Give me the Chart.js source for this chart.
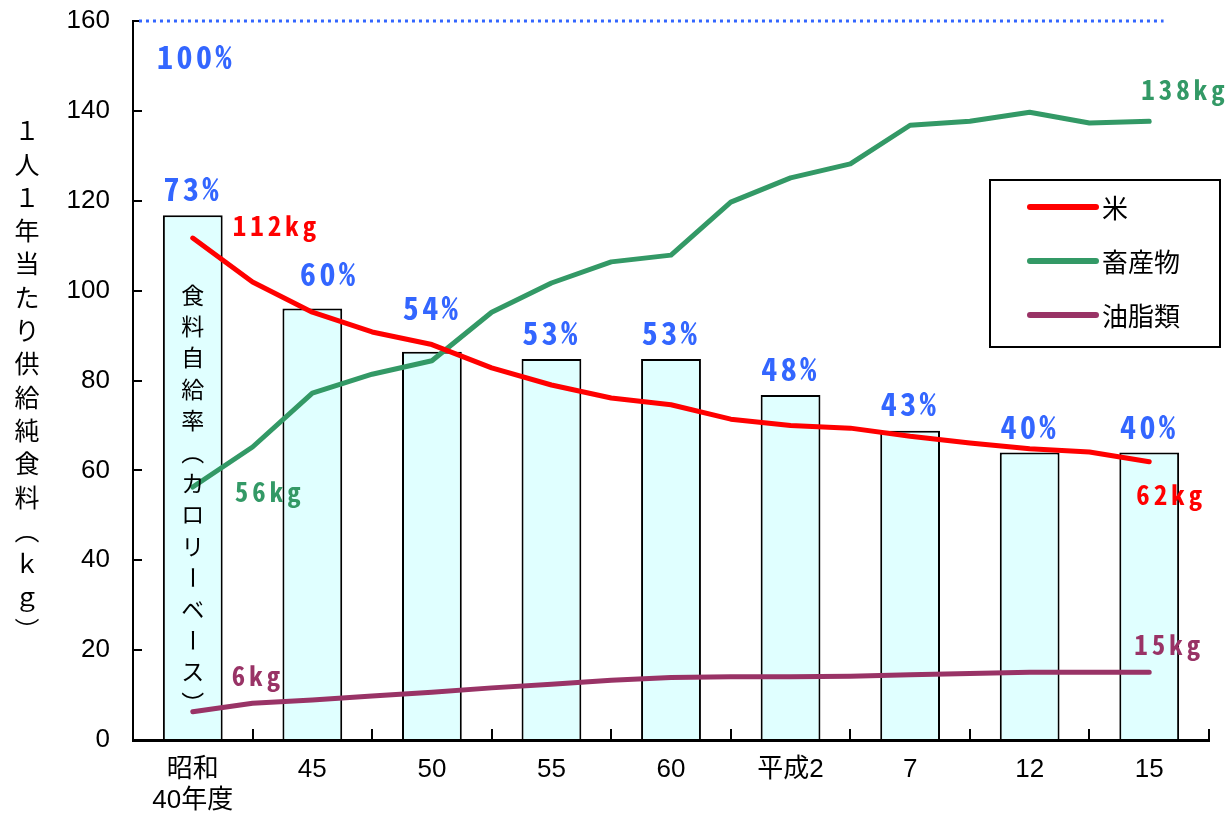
<!DOCTYPE html>
<html lang="ja">
<head>
<meta charset="utf-8">
<script src="https://cdn.jsdelivr.net/npm/chart.js@4.4.1/dist/chart.umd.min.js"></script>
<style>
  html, body { margin: 0; padding: 0; background: #fff; }
</style>
</head>
<body>
<canvas id="chart" width="1227" height="813"></canvas>
<script>
// categories (年度) and 食料自給率 (%)
const categories = [["昭和", "40年度"], "45", "50", "55", "60", "平成2", "7", "12", "15"];
const selfRate = [73, 60, 54, 53, 53, 48, 43, 40, 40];

// line points sit on every category and half-way between them
const lineX = [0, 0.5, 1, 1.5, 2, 2.5, 3, 3.5, 4, 4.5, 5, 5.5, 6, 6.5, 7, 7.5, 8];
const rice      = [111.7, 101.9, 95.2, 90.8, 88.0, 82.8, 79.0, 76.1, 74.6, 71.4, 70.0, 69.4, 67.6, 66.1, 64.8, 64.1, 61.9];
const livestock = [56.3, 65.2, 77.2, 81.4, 84.4, 95.2, 101.7, 106.4, 107.9, 119.7, 125.1, 128.2, 136.8, 137.7, 139.7, 137.3, 137.7];
const fats      = [6.3, 8.2, 8.9, 9.8, 10.6, 11.6, 12.4, 13.3, 13.9, 14.1, 14.1, 14.2, 14.5, 14.8, 15.1, 15.1, 15.1];

const seriesNames = ["米", "畜産物", "油脂類"];
const seriesColors = ["#ff0000", "#339966", "#993366"];
const endLabels = [["112kg", "62kg"], ["56kg", "138kg"], ["6kg", "15kg"]];

const yMax = 160;           // 100% 自給率 = 160 on the kg axis
const refLineX = [-0.45, 8.12];
const yTitle = "１人１年当たり供給純食料（ｋｇ）";
const barNote = "食料自給率（カロリーベース）";

const BLUE = "#3366ff";
const FONT = "'Liberation Sans', 'Noto Sans CJK JP', sans-serif";
const CJK = "'Noto Sans CJK JP', sans-serif";
const BOLD = "'Noto Sans Mono CJK JP', 'Noto Sans CJK JP', sans-serif";

const pts = vals => vals.map((v, i) => ({ x: lineX[i], y: v }));

function lineSet(i, vals) {
  return {
    type: "line",
    label: seriesNames[i],
    data: pts(vals),
    xAxisID: "x2",
    borderColor: seriesColors[i],
    borderWidth: 5,
    borderCapStyle: "round",
    borderJoinStyle: "round",
    pointRadius: 0,
    tension: 0,
    order: 1
  };
}

// vertical text, one glyph under the other
function drawVertical(ctx, text, cx, cy, step) {
  const chars = Array.from(text.replace("（", "︵").replace("）", "︶"));
  let y = cy - (chars.length - 1) * step / 2;
  chars.forEach(ch => {
    if (ch === "ー") {
      ctx.save();
      ctx.translate(cx, y);
      ctx.rotate(Math.PI / 2);
      ctx.fillText(ch, 0, 0);
      ctx.restore();
    } else {
      ctx.fillText(ch, cx, y);
    }
    y += step;
  });
}

const overlay = {
  id: "overlay",
  afterDatasetsDraw(chart) {
    const { ctx, chartArea: ca, scales: { x, x2, y } } = chart;
    ctx.save();
    ctx.textBaseline = "middle";

    // percent labels above bars
    ctx.font = "bold 32px " + BOLD;
    ctx.fillStyle = BLUE;
    ctx.textAlign = "center";
    ctx.letterSpacing = "3.5px";
    const lift = [26, 35, 44, 26, 26, 26, 27, 26, 26];
    const shift = [0, 17, 0, 0, 0, 0, 0, 0, 0];
    selfRate.forEach((p, i) => {
      ctx.fillText(p + "%", x.getPixelForValue(i) + shift[i], y.getPixelForValue(p * yMax / 100) - lift[i]);
    });
    ctx.textAlign = "left";
    ctx.fillText("100%", ca.left + 24, ca.top + 36);

    // start / end kg labels
    ctx.font = "bold 27px " + BOLD;
    ctx.letterSpacing = "4px";
    const allVals = [rice, livestock, fats];
    const startOff = [[40, -12], [42, 5], [39, -36]];
    const endOff = [[-13, 33], [-8, -31], [-15, -27]];
    allVals.forEach((vals, i) => {
      ctx.fillStyle = seriesColors[i];
      const x0 = x2.getPixelForValue(lineX[0]);
      const y0 = y.getPixelForValue(vals[0]);
      ctx.fillText(endLabels[i][0], x0 + startOff[i][0], y0 + startOff[i][1]);
      const n = vals.length - 1;
      const x1 = x2.getPixelForValue(lineX[n]);
      const y1 = y.getPixelForValue(vals[n]);
      ctx.fillText(endLabels[i][1], x1 + endOff[i][0], y1 + endOff[i][1]);
    });
    ctx.letterSpacing = "0px";

    // text inside first bar
    ctx.fillStyle = "#000";
    ctx.textAlign = "center";
    ctx.font = "23px " + CJK;
    drawVertical(ctx, barNote, x.getPixelForValue(0), ca.top + 478, 31.4);

    // y axis title
    ctx.font = "25px " + CJK;
    drawVertical(ctx, yTitle, 27, (ca.top + ca.bottom) / 2, 33.3);

    // legend box
    const lx = ca.right - 219, ly = ca.top + 159;
    ctx.lineWidth = 2;
    ctx.strokeStyle = "#000";
    ctx.strokeRect(lx, ly, 230, 167);
    ctx.font = "26px " + CJK;
    ctx.textAlign = "left";
    seriesNames.forEach((name, i) => {
      const yy = ly + 27 + i * 54;
      ctx.strokeStyle = seriesColors[i];
      ctx.lineWidth = 6;
      ctx.lineCap = "round";
      ctx.beginPath();
      ctx.moveTo(lx + 40, yy);
      ctx.lineTo(lx + 106, yy);
      ctx.stroke();
      ctx.fillStyle = "#000";
      ctx.fillText(name, lx + 112, yy + 1);
    });
    ctx.restore();
  }
};

new Chart(document.getElementById("chart"), {
  type: "bar",
  data: {
    labels: categories,
    datasets: [
      lineSet(0, rice),
      lineSet(1, livestock),
      lineSet(2, fats),
      {
        type: "line",
        label: "100%",
        data: refLineX.map(v => ({ x: v, y: yMax })),
        xAxisID: "x2",
        borderColor: BLUE,
        borderWidth: 3,
        borderDash: [3, 4],
        pointRadius: 0,
        clip: false,
        order: 2
      },
      {
        type: "bar",
        label: "食料自給率",
        data: selfRate.map(p => p * yMax / 100),
        backgroundColor: "#e0ffff",
        borderColor: "#000",
        borderWidth: 2,
        grouped: false,
        barPercentage: 0.5,
        categoryPercentage: 1,
        order: 10
      }
    ]
  },
  options: {
    responsive: false,
    animation: false,
    layout: { padding: { left: 50, right: 18, top: 21, bottom: 0 } },
    plugins: { legend: { display: false }, tooltip: { enabled: false } },
    scales: {
      x: {
        type: "category",
        offset: true,
        grid: { offset: true, drawOnChartArea: false, tickLength: -11, color: "#000", lineWidth: 2 },
        border: { color: "#000", width: 3 },
        ticks: { color: "#000", font: { size: 26, family: FONT }, padding: 25, maxRotation: 0, autoSkip: false },
        afterFit(s) { s.height = 73; }
      },
      // hidden axis for the line series, spanning the same width as x
      x2: { type: "linear", display: false, offset: false, min: -0.5, max: 8.5 },
      y: {
        min: 0,
        max: yMax,
        ticks: { stepSize: 20, color: "#000", font: { size: 26, family: FONT }, padding: 32 },
        grid: { drawOnChartArea: false, tickLength: -9, color: "#000", lineWidth: 2 },
        border: { color: "#000", width: 2 },
        afterFit(s) { s.width = 83; s.paddingTop = 0; }
      }
    }
  },
  plugins: [overlay]
});
</script>
</body>
</html>
